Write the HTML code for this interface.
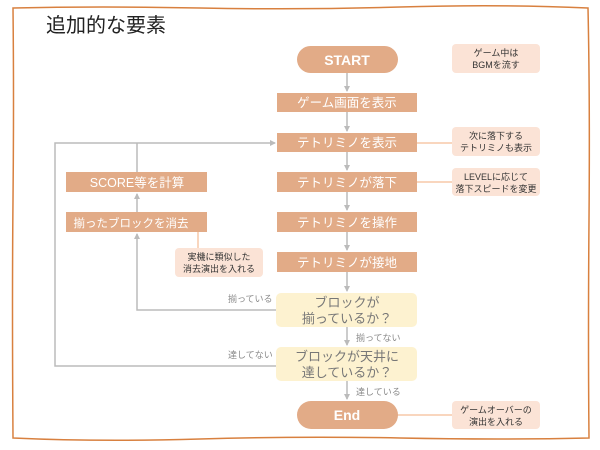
<!DOCTYPE html>
<html><head><meta charset="utf-8"><style>
html,body{margin:0;padding:0;background:#fff;}
svg{display:block;font-family:"Liberation Sans","Noto Sans CJK JP",sans-serif;}
</style></head><body>
<svg width="600" height="450" viewBox="0 0 600 450" xmlns="http://www.w3.org/2000/svg">
<defs>
<marker id="a" markerWidth="6" markerHeight="6" refX="5" refY="3" orient="auto" markerUnits="userSpaceOnUse"><path d="M0,0 L6,3 L0,6 z" fill="#bbb"/></marker>
</defs>
<path d="M13,8 Q100,6 200,8 T400,7 T588,8 Q590,100 589,220 T589,438 Q500,440 400,438 T200,439 T13,438 Q12,300 13,200 T13,8 z" fill="none" stroke="#d8803f" stroke-width="1.5"/>
<text x="46" y="32" font-size="20" fill="#222">追加的な要素</text>

<g stroke="#bbb" stroke-width="1.5" fill="none">
<line x1="347" y1="73" x2="347" y2="91" marker-end="url(#a)"/>
<line x1="347" y1="112" x2="347" y2="131" marker-end="url(#a)"/>
<line x1="347" y1="152" x2="347" y2="170" marker-end="url(#a)"/>
<line x1="347" y1="192" x2="347" y2="210" marker-end="url(#a)"/>
<line x1="347" y1="232" x2="347" y2="250" marker-end="url(#a)"/>
<line x1="347" y1="272" x2="347" y2="291" marker-end="url(#a)"/>
<line x1="347" y1="327" x2="347" y2="345" marker-end="url(#a)"/>
<line x1="347" y1="381" x2="347" y2="399" marker-end="url(#a)"/>
<polyline points="276,310 137,310 137,234" marker-end="url(#a)"/>
<line x1="137" y1="212" x2="137" y2="194" marker-end="url(#a)"/>
<polyline points="137,172 137,143"/>
<polyline points="276,366 55,366 55,143 275,143" marker-end="url(#a)"/>
</g>
<g stroke="#f7c8a8" stroke-width="1.5" fill="#f7c8a8">
<line x1="404" y1="143" x2="452" y2="143"/><circle cx="404" cy="143" r="2.5"/>
<line x1="404" y1="182" x2="452" y2="182"/><circle cx="404" cy="182" r="2.5"/>
<line x1="381" y1="415" x2="452" y2="415"/><circle cx="381" cy="415" r="2.5"/>
<line x1="198" y1="223" x2="198" y2="249"/><circle cx="198" cy="223" r="2.5"/>
</g>

<g fill="#e2ab87">
<rect x="297" y="46" width="101" height="27" rx="13.5"/>
<rect x="297" y="401" width="101" height="28" rx="14"/>
<rect x="277" y="93" width="140" height="19"/>
<rect x="277" y="133" width="140" height="19"/>
<rect x="277" y="172" width="140" height="20"/>
<rect x="277" y="212" width="140" height="20"/>
<rect x="277" y="252" width="140" height="20"/>
<rect x="66" y="172" width="141" height="20"/>
<rect x="66" y="212" width="141" height="20"/>
</g>
<g fill="#fdf2d0">
<rect x="276" y="293" width="141" height="34" rx="5"/>
<rect x="276" y="347" width="141" height="34" rx="5"/>
</g>
<g fill="#fbe3d6">
<rect x="452" y="44" width="88" height="29" rx="4"/>
<rect x="452" y="127" width="88" height="29" rx="4"/>
<rect x="452" y="168" width="88" height="28" rx="4"/>
<rect x="452" y="401" width="88" height="28" rx="4"/>
<rect x="175" y="248" width="88" height="29" rx="4"/>
</g>

<g fill="#fff" font-size="12.5" text-anchor="middle">
<text x="347" y="65" font-weight="bold" font-size="14">START</text>
<text x="347" y="420" font-weight="bold" font-size="14">End</text>
<text x="347" y="107">ゲーム画面を表示</text>
<text x="347" y="147">テトリミノを表示</text>
<text x="347" y="187">テトリミノが落下</text>
<text x="347" y="227">テトリミノを操作</text>
<text x="347" y="267">テトリミノが接地</text>
<text x="137" y="187">SCORE等を計算</text>
<text x="131" y="227" font-size="11.5">揃ったブロックを消去</text>
</g>
<g fill="#777" font-size="13" text-anchor="middle">
<text x="347" y="307">ブロックが</text>
<text x="347" y="323">揃っているか？</text>
<text x="347" y="361">ブロックが天井に</text>
<text x="347" y="377">達しているか？</text>
</g>
<g fill="#888" font-size="9">
<text x="228" y="302">揃っている</text>
<text x="356" y="341">揃ってない</text>
<text x="228" y="358">達してない</text>
<text x="356" y="395">達している</text>
</g>
<g fill="#333" font-size="9" text-anchor="middle">
<text x="496" y="56">ゲーム中は</text><text x="496" y="68">BGMを流す</text>
<text x="496" y="139">次に落下する</text><text x="496" y="151">テトリミノも表示</text>
<text x="496" y="180">LEVELに応じて</text><text x="496" y="192">落下スピードを変更</text>
<text x="496" y="413">ゲームオーバーの</text><text x="496" y="425">演出を入れる</text>
<text x="219" y="260">実機に類似した</text><text x="219" y="272">消去演出を入れる</text>
</g>
</svg>
</body></html>
